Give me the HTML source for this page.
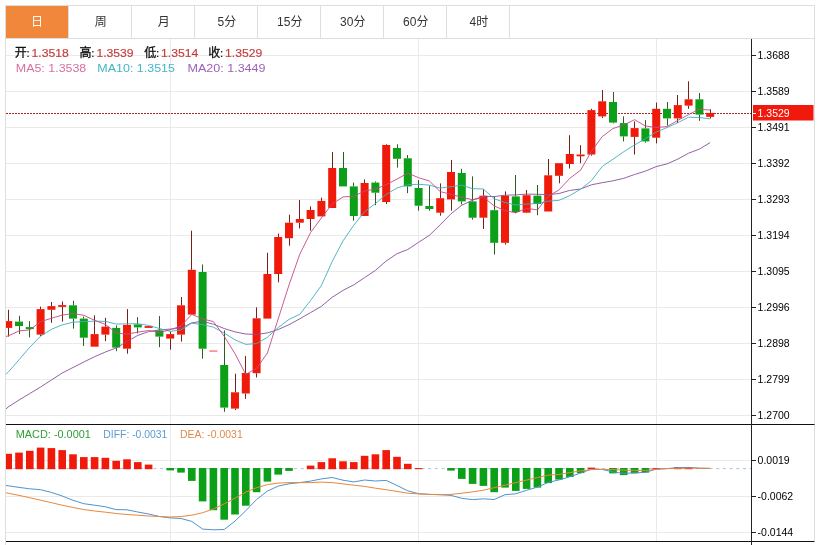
<!DOCTYPE html><html><head><meta charset="utf-8"><title>K线图</title><style>
html,body{margin:0;padding:0;background:#fff}svg{display:block}
text{font-family:"Liberation Sans","Noto Sans CJK SC",sans-serif}
.ax{font-size:10.5px;fill:#000}.tab{font-size:12px;fill:#333;text-anchor:middle}.inf{font-size:11.5px}.cj{font-size:12px}.mc{font-size:11px}
</style></head><body>
<svg width="822" height="545" viewBox="0 0 822 545">
<rect width="822" height="545" fill="#fff"/>
<path d="M5.5 5.5H814.5V541M5.5 5.5V545M5.5 38.5H814.5" fill="none" stroke="#dedede" stroke-width="1"/>
<rect x="6" y="6" width="62" height="32" fill="#f0873b"/>
<text class="tab" x="37.1" y="25.6" style="fill:#fff">日</text>
<path d="M68.5 5.5V38.5" stroke="#dedede" stroke-width="1"/>
<text class="tab" x="100.8" y="25.6" style="fill:#333">周</text>
<path d="M131.5 5.5V38.5" stroke="#dedede" stroke-width="1"/>
<text class="tab" x="163.8" y="25.6" style="fill:#333">月</text>
<path d="M194.5 5.5V38.5" stroke="#dedede" stroke-width="1"/>
<text class="tab" x="226.8" y="25.6" style="fill:#333">5分</text>
<path d="M257.5 5.5V38.5" stroke="#dedede" stroke-width="1"/>
<text class="tab" x="289.8" y="25.6" style="fill:#333">15分</text>
<path d="M320.5 5.5V38.5" stroke="#dedede" stroke-width="1"/>
<text class="tab" x="352.8" y="25.6" style="fill:#333">30分</text>
<path d="M383.5 5.5V38.5" stroke="#dedede" stroke-width="1"/>
<text class="tab" x="415.8" y="25.6" style="fill:#333">60分</text>
<path d="M446.5 5.5V38.5" stroke="#dedede" stroke-width="1"/>
<text class="tab" x="478.8" y="25.6" style="fill:#333">4时</text>
<path d="M509.5 5.5V38.5" stroke="#dedede" stroke-width="1"/>
<path d="M6 55.5H751" stroke="#eaeaea" stroke-width="1"/>
<path d="M6 91.5H751" stroke="#eaeaea" stroke-width="1"/>
<path d="M6 127.5H751" stroke="#eaeaea" stroke-width="1"/>
<path d="M6 163.5H751" stroke="#eaeaea" stroke-width="1"/>
<path d="M6 199.5H751" stroke="#eaeaea" stroke-width="1"/>
<path d="M6 235.5H751" stroke="#eaeaea" stroke-width="1"/>
<path d="M6 271.5H751" stroke="#eaeaea" stroke-width="1"/>
<path d="M6 307.5H751" stroke="#eaeaea" stroke-width="1"/>
<path d="M6 343.5H751" stroke="#eaeaea" stroke-width="1"/>
<path d="M6 379.5H751" stroke="#eaeaea" stroke-width="1"/>
<path d="M6 415.5H751" stroke="#eaeaea" stroke-width="1"/>
<path d="M6 460.5H751" stroke="#eaeaea" stroke-width="1"/>
<path d="M6 496.5H751" stroke="#eaeaea" stroke-width="1"/>
<path d="M6 532.5H751" stroke="#eaeaea" stroke-width="1"/>
<path d="M170.5 39V541" stroke="#eaeaea" stroke-width="1"/>
<path d="M418.5 39V541" stroke="#eaeaea" stroke-width="1"/>
<path d="M656.5 39V541" stroke="#eaeaea" stroke-width="1"/>
<text class="inf cj" x="14.7" y="56.6" fill="#111" stroke="#111" stroke-width="0.3">开</text>
<text class="inf" x="26.4" y="56.6" fill="#111" stroke="#111" stroke-width="0.2">:</text>
<text class="inf" x="31.5" y="56.6" textLength="37.2" lengthAdjust="spacingAndGlyphs" fill="#c43c3a" stroke="#c43c3a" stroke-width="0.15">1.3518</text>
<text class="inf cj" x="79.6" y="56.6" fill="#111" stroke="#111" stroke-width="0.3">高</text>
<text class="inf" x="91.3" y="56.6" fill="#111" stroke="#111" stroke-width="0.2">:</text>
<text class="inf" x="96.39999999999999" y="56.6" textLength="37.2" lengthAdjust="spacingAndGlyphs" fill="#c43c3a" stroke="#c43c3a" stroke-width="0.15">1.3539</text>
<text class="inf cj" x="144.2" y="56.6" fill="#111" stroke="#111" stroke-width="0.3">低</text>
<text class="inf" x="155.89999999999998" y="56.6" fill="#111" stroke="#111" stroke-width="0.2">:</text>
<text class="inf" x="161.0" y="56.6" textLength="37.2" lengthAdjust="spacingAndGlyphs" fill="#c43c3a" stroke="#c43c3a" stroke-width="0.15">1.3514</text>
<text class="inf cj" x="208.3" y="56.6" fill="#111" stroke="#111" stroke-width="0.3">收</text>
<text class="inf" x="220.0" y="56.6" fill="#111" stroke="#111" stroke-width="0.2">:</text>
<text class="inf" x="225.10000000000002" y="56.6" textLength="37.2" lengthAdjust="spacingAndGlyphs" fill="#c43c3a" stroke="#c43c3a" stroke-width="0.15">1.3529</text>
<text class="inf" x="15.8" y="72" textLength="70.5" lengthAdjust="spacingAndGlyphs" fill="#d8709f">MA5: 1.3538</text>
<text class="inf" x="97.3" y="72" textLength="77.7" lengthAdjust="spacingAndGlyphs" fill="#45b6c6">MA10: 1.3515</text>
<text class="inf" x="187.5" y="72" textLength="78" lengthAdjust="spacingAndGlyphs" fill="#9c60ba">MA20: 1.3449</text>
<defs><clipPath id="cp"><rect x="6" y="39" width="745" height="385"/></clipPath><clipPath id="cm"><rect x="6" y="425" width="745" height="116"/></clipPath></defs>
<path d="M6 113.5H751" stroke="#a82a2a" stroke-width="1" stroke-dasharray="2 1"/>
<g clip-path="url(#cp)" fill="none" stroke-width="1" stroke-linejoin="round">
<path d="M8.5 309.8V321.1" stroke="#7a2018"/>
<path d="M8.5 327.9V336.6" stroke="#7a2018"/>
<rect x="4.2" y="321.1" width="8" height="6.8" fill="#f01a0a"/>
<path d="M19.5 315.8V321.6" stroke="#2c5e24"/>
<path d="M19.5 326.1V334.1" stroke="#2c5e24"/>
<rect x="15.0" y="321.6" width="8" height="4.5" fill="#0ba017"/>
<path d="M29.5 321.1V327.1" stroke="#2c5e24"/>
<path d="M29.5 329.1V337.4" stroke="#2c5e24"/>
<rect x="25.8" y="327.1" width="8" height="2.0" fill="#0ba017"/>
<path d="M40.5 306.6V309.1" stroke="#7a2018"/>
<path d="M40.5 334.6V336.1" stroke="#7a2018"/>
<rect x="36.6" y="309.1" width="8" height="25.5" fill="#f01a0a"/>
<path d="M51.5 302.0V306.1" stroke="#7a2018"/>
<path d="M51.5 309.8V322.8" stroke="#7a2018"/>
<rect x="47.4" y="306.1" width="8" height="3.7" fill="#f01a0a"/>
<path d="M62.5 301.5V305.1" stroke="#7a2018"/>
<path d="M62.5 306.6V321.6" stroke="#7a2018"/>
<rect x="58.2" y="305.1" width="8" height="1.8" fill="#f01a0a"/>
<path d="M73.5 300.8V305.3" stroke="#2c5e24"/>
<path d="M73.5 318.6V328.6" stroke="#2c5e24"/>
<rect x="69.0" y="305.3" width="8" height="13.3" fill="#0ba017"/>
<path d="M83.5 316.6V318.6" stroke="#2c5e24"/>
<path d="M83.5 337.7V345.9" stroke="#2c5e24"/>
<rect x="79.8" y="318.6" width="8" height="19.1" fill="#0ba017"/>
<path d="M94.5 315.3V334.1" stroke="#7a2018"/>
<rect x="90.6" y="334.1" width="8" height="12.6" fill="#f01a0a"/>
<path d="M105.5 317.8V326.6" stroke="#7a2018"/>
<path d="M105.5 334.6V341.1" stroke="#7a2018"/>
<rect x="101.4" y="326.6" width="8" height="8.0" fill="#f01a0a"/>
<path d="M116.5 325.4V327.9" stroke="#2c5e24"/>
<path d="M116.5 347.6V351.2" stroke="#2c5e24"/>
<rect x="112.2" y="327.9" width="8" height="19.7" fill="#0ba017"/>
<path d="M127.5 309.1V324.9" stroke="#7a2018"/>
<path d="M127.5 348.7V353.7" stroke="#7a2018"/>
<rect x="123.0" y="324.9" width="8" height="23.8" fill="#f01a0a"/>
<path d="M137.5 317.1V324.4" stroke="#2c5e24"/>
<path d="M137.5 327.4V333.4" stroke="#2c5e24"/>
<rect x="133.8" y="324.4" width="8" height="3.0" fill="#0ba017"/>
<rect x="144.6" y="326.1" width="8" height="1.8" fill="#f01a0a"/>
<path d="M159.5 316.1V330.4" stroke="#2c5e24"/>
<path d="M159.5 336.6V347.2" stroke="#2c5e24"/>
<rect x="155.4" y="330.4" width="8" height="6.2" fill="#0ba017"/>
<path d="M170.5 331.6V334.1" stroke="#7a2018"/>
<path d="M170.5 338.6V349.7" stroke="#7a2018"/>
<rect x="166.2" y="334.1" width="8" height="4.5" fill="#f01a0a"/>
<path d="M181.5 297.0V305.3" stroke="#7a2018"/>
<path d="M181.5 334.6V341.6" stroke="#7a2018"/>
<rect x="177.0" y="305.3" width="8" height="29.3" fill="#f01a0a"/>
<path d="M191.5 230.7V269.8" stroke="#7a2018"/>
<rect x="187.8" y="269.8" width="8" height="44.8" fill="#f01a0a"/>
<path d="M202.5 264.5V272.0" stroke="#2c5e24"/>
<path d="M202.5 348.7V358.7" stroke="#2c5e24"/>
<rect x="198.6" y="272.0" width="8" height="76.7" fill="#0ba017"/>
<rect x="209.4" y="350.2" width="8" height="1.8" fill="#f01a0a" opacity=".45"/>
<path d="M224.5 330.4V365.0" stroke="#2c5e24"/>
<path d="M224.5 407.6V411.8" stroke="#2c5e24"/>
<rect x="220.2" y="365.0" width="8" height="42.6" fill="#0ba017"/>
<path d="M235.5 373.7V392.3" stroke="#7a2018"/>
<path d="M235.5 408.6V410.1" stroke="#7a2018"/>
<rect x="231.0" y="392.3" width="8" height="16.3" fill="#f01a0a"/>
<path d="M245.5 355.9V373.0" stroke="#7a2018"/>
<path d="M245.5 393.5V398.8" stroke="#7a2018"/>
<rect x="241.8" y="373.0" width="8" height="20.5" fill="#f01a0a"/>
<path d="M256.5 307.3V318.3" stroke="#7a2018"/>
<path d="M256.5 373.2V377.5" stroke="#7a2018"/>
<rect x="252.6" y="318.3" width="8" height="54.9" fill="#f01a0a"/>
<path d="M267.5 252.8V274.0" stroke="#7a2018"/>
<rect x="263.4" y="274.0" width="8" height="44.6" fill="#f01a0a"/>
<path d="M278.5 233.5V237.0" stroke="#7a2018"/>
<path d="M278.5 274.0V282.3" stroke="#7a2018"/>
<rect x="274.2" y="237.0" width="8" height="37.0" fill="#f01a0a"/>
<path d="M289.5 214.7V222.7" stroke="#7a2018"/>
<path d="M289.5 238.2V245.7" stroke="#7a2018"/>
<rect x="285.0" y="222.7" width="8" height="15.5" fill="#f01a0a"/>
<path d="M299.5 200.0V219.0" stroke="#7a2018"/>
<path d="M299.5 222.7V228.4" stroke="#7a2018"/>
<rect x="295.8" y="219.0" width="8" height="3.7" fill="#f01a0a"/>
<path d="M310.5 206.4V210.0" stroke="#7a2018"/>
<path d="M310.5 219.0V230.7" stroke="#7a2018"/>
<rect x="306.6" y="210.0" width="8" height="9.0" fill="#f01a0a"/>
<path d="M321.5 197.6V200.9" stroke="#7a2018"/>
<rect x="317.4" y="200.9" width="8" height="15.5" fill="#f01a0a"/>
<path d="M332.5 152.0V168.0" stroke="#7a2018"/>
<rect x="328.2" y="168.0" width="8" height="40.0" fill="#f01a0a"/>
<path d="M343.5 152.0V168.0" stroke="#2c5e24"/>
<rect x="339.0" y="168.0" width="8" height="18.4" fill="#0ba017"/>
<path d="M353.5 182.6V186.4" stroke="#2c5e24"/>
<path d="M353.5 216.0V220.7" stroke="#2c5e24"/>
<rect x="349.8" y="186.4" width="8" height="29.6" fill="#0ba017"/>
<path d="M364.5 179.4V183.0" stroke="#7a2018"/>
<rect x="360.6" y="183.0" width="8" height="33.0" fill="#f01a0a"/>
<path d="M375.5 181.4V182.6" stroke="#2c5e24"/>
<path d="M375.5 192.7V205.2" stroke="#2c5e24"/>
<rect x="371.4" y="182.6" width="8" height="10.1" fill="#0ba017"/>
<path d="M386.5 144.3V145.0" stroke="#7a2018"/>
<path d="M386.5 202.0V204.0" stroke="#7a2018"/>
<rect x="382.2" y="145.0" width="8" height="57.0" fill="#f01a0a"/>
<path d="M397.5 144.3V148.0" stroke="#2c5e24"/>
<path d="M397.5 158.8V167.6" stroke="#2c5e24"/>
<rect x="393.0" y="148.0" width="8" height="10.8" fill="#0ba017"/>
<path d="M407.5 155.0V158.3" stroke="#2c5e24"/>
<path d="M407.5 186.4V193.2" stroke="#2c5e24"/>
<rect x="403.8" y="158.3" width="8" height="28.1" fill="#0ba017"/>
<path d="M418.5 180.0V188.0" stroke="#2c5e24"/>
<path d="M418.5 205.7V210.7" stroke="#2c5e24"/>
<rect x="414.6" y="188.0" width="8" height="17.7" fill="#0ba017"/>
<path d="M429.5 185.6V206.0" stroke="#2c5e24"/>
<path d="M429.5 209.0V210.7" stroke="#2c5e24"/>
<rect x="425.4" y="206.0" width="8" height="3.0" fill="#0ba017"/>
<path d="M440.5 183.4V198.2" stroke="#7a2018"/>
<path d="M440.5 212.7V215.7" stroke="#7a2018"/>
<rect x="436.2" y="198.2" width="8" height="14.5" fill="#f01a0a"/>
<path d="M451.5 160.0V172.0" stroke="#7a2018"/>
<path d="M451.5 199.4V210.7" stroke="#7a2018"/>
<rect x="447.0" y="172.0" width="8" height="27.4" fill="#f01a0a"/>
<path d="M461.5 168.8V173.0" stroke="#2c5e24"/>
<path d="M461.5 201.4V204.4" stroke="#2c5e24"/>
<rect x="457.8" y="173.0" width="8" height="28.4" fill="#0ba017"/>
<path d="M472.5 176.4V201.4" stroke="#2c5e24"/>
<path d="M472.5 217.7V219.7" stroke="#2c5e24"/>
<rect x="468.6" y="201.4" width="8" height="16.3" fill="#0ba017"/>
<path d="M483.5 189.4V195.7" stroke="#7a2018"/>
<path d="M483.5 217.7V229.0" stroke="#7a2018"/>
<rect x="479.4" y="195.7" width="8" height="22.0" fill="#f01a0a"/>
<path d="M494.5 196.4V210.2" stroke="#2c5e24"/>
<path d="M494.5 242.8V254.6" stroke="#2c5e24"/>
<rect x="490.2" y="210.2" width="8" height="32.6" fill="#0ba017"/>
<path d="M505.5 191.4V195.7" stroke="#7a2018"/>
<path d="M505.5 242.8V244.5" stroke="#7a2018"/>
<rect x="501.0" y="195.7" width="8" height="47.1" fill="#f01a0a"/>
<path d="M515.5 175.0V196.4" stroke="#2c5e24"/>
<path d="M515.5 212.0V213.2" stroke="#2c5e24"/>
<rect x="511.8" y="196.4" width="8" height="15.6" fill="#0ba017"/>
<path d="M526.5 190.0V195.2" stroke="#7a2018"/>
<path d="M526.5 212.7V213.2" stroke="#7a2018"/>
<rect x="522.6" y="195.2" width="8" height="17.5" fill="#f01a0a"/>
<path d="M537.5 185.0V195.7" stroke="#2c5e24"/>
<path d="M537.5 204.0V215.2" stroke="#2c5e24"/>
<rect x="533.4" y="195.7" width="8" height="8.3" fill="#0ba017"/>
<path d="M548.5 159.0V175.3" stroke="#7a2018"/>
<rect x="544.2" y="175.3" width="8" height="36.2" fill="#f01a0a"/>
<path d="M559.5 175.8V183.3" stroke="#7a2018"/>
<rect x="555.0" y="163.2" width="8" height="12.6" fill="#f01a0a"/>
<path d="M569.5 135.2V154.0" stroke="#7a2018"/>
<path d="M569.5 164.0V168.5" stroke="#7a2018"/>
<rect x="565.8" y="154.0" width="8" height="10.0" fill="#f01a0a"/>
<path d="M580.5 145.2V154.5" stroke="#7a2018"/>
<path d="M580.5 155.7V163.2" stroke="#7a2018"/>
<rect x="576.6" y="154.5" width="8" height="1.8" fill="#f01a0a"/>
<path d="M591.5 108.8V110.1" stroke="#7a2018"/>
<path d="M591.5 154.5V155.7" stroke="#7a2018"/>
<rect x="587.4" y="110.1" width="8" height="44.4" fill="#f01a0a"/>
<path d="M602.5 90.0V101.3" stroke="#7a2018"/>
<path d="M602.5 116.4V118.1" stroke="#7a2018"/>
<rect x="598.2" y="101.3" width="8" height="15.1" fill="#f01a0a"/>
<path d="M613.5 92.0V102.0" stroke="#2c5e24"/>
<path d="M613.5 122.6V123.4" stroke="#2c5e24"/>
<rect x="609.0" y="102.0" width="8" height="20.6" fill="#0ba017"/>
<path d="M623.5 116.4V123.1" stroke="#2c5e24"/>
<path d="M623.5 136.4V141.4" stroke="#2c5e24"/>
<rect x="619.8" y="123.1" width="8" height="13.3" fill="#0ba017"/>
<path d="M634.5 121.4V128.1" stroke="#7a2018"/>
<path d="M634.5 136.9V154.5" stroke="#7a2018"/>
<rect x="630.6" y="128.1" width="8" height="8.8" fill="#f01a0a"/>
<path d="M645.5 120.1V128.4" stroke="#2c5e24"/>
<path d="M645.5 141.4V142.7" stroke="#2c5e24"/>
<rect x="641.4" y="128.4" width="8" height="13.0" fill="#0ba017"/>
<path d="M656.5 102.6V108.8" stroke="#7a2018"/>
<path d="M656.5 137.7V143.4" stroke="#7a2018"/>
<rect x="652.2" y="108.8" width="8" height="28.9" fill="#f01a0a"/>
<path d="M667.5 102.0V108.8" stroke="#2c5e24"/>
<path d="M667.5 118.4V125.6" stroke="#2c5e24"/>
<rect x="663.0" y="108.8" width="8" height="9.6" fill="#0ba017"/>
<path d="M677.5 95.0V105.1" stroke="#7a2018"/>
<path d="M677.5 118.4V123.1" stroke="#7a2018"/>
<rect x="673.8" y="105.1" width="8" height="13.3" fill="#f01a0a"/>
<path d="M688.5 81.3V99.3" stroke="#7a2018"/>
<path d="M688.5 105.6V108.8" stroke="#7a2018"/>
<rect x="684.6" y="99.3" width="8" height="6.3" fill="#f01a0a"/>
<path d="M699.5 93.0V99.3" stroke="#2c5e24"/>
<path d="M699.5 114.6V120.9" stroke="#2c5e24"/>
<rect x="695.4" y="99.3" width="8" height="15.3" fill="#0ba017"/>
<path d="M710.5 109.3V112.9" stroke="#7a2018"/>
<path d="M710.5 116.9V118.4" stroke="#7a2018"/>
<rect x="706.2" y="112.9" width="8" height="4.0" fill="#f01a0a"/>
<polyline points="5.5,409.3 8.2,407.0 19.0,400.0 29.8,393.5 40.6,387.0 51.4,380.0 62.2,373.0 73.0,367.5 83.8,362.0 94.6,356.7 105.4,352.0 116.2,347.9 127.0,341.5 137.8,335.4 148.6,331.6 159.4,329.9 170.2,329.1 181.0,328.2 191.8,322.8 202.6,321.3 213.4,324.2 224.2,328.5 235.0,331.9 245.8,334.0 256.6,334.5 267.4,332.9 278.2,329.5 289.0,324.7 299.8,318.8 310.6,312.6 321.4,306.3 332.2,297.3 343.0,290.4 353.8,284.8 364.6,277.6 375.4,270.4 386.2,261.0 397.0,253.7 407.8,249.5 418.6,242.3 429.4,235.3 440.2,224.8 451.0,213.8 461.8,205.2 472.6,200.2 483.4,196.3 494.2,196.6 505.0,195.2 515.8,194.9 526.6,194.1 537.4,194.3 548.2,194.7 559.0,193.5 569.8,190.4 580.6,189.0 591.4,184.8 602.2,182.7 613.0,180.8 623.8,178.3 634.6,174.5 645.4,171.1 656.2,166.6 667.0,163.9 677.8,159.1 688.6,153.2 699.4,149.1 710.2,142.6" stroke="#87509a" stroke-width=".9"/>
<polyline points="5.5,374.7 8.2,372.2 19.0,359.8 29.8,347.2 40.6,336.1 51.4,329.3 62.2,324.9 73.0,322.2 83.8,321.6 94.6,321.2 105.4,321.4 116.2,324.0 127.0,323.9 137.8,323.7 148.6,325.4 159.4,328.5 170.2,331.4 181.0,330.0 191.8,323.2 202.6,324.7 213.4,327.1 224.2,333.1 235.0,339.8 245.8,344.4 256.6,343.6 267.4,337.3 278.2,327.6 289.0,319.4 299.8,314.3 310.6,300.4 321.4,285.5 332.2,261.5 343.0,240.9 353.8,225.2 364.6,211.7 375.4,203.6 386.2,194.4 397.0,188.0 407.8,184.7 418.6,184.3 429.4,185.1 440.2,188.1 451.0,186.7 461.8,185.2 472.6,188.7 483.4,189.0 494.2,198.8 505.0,202.5 515.8,205.0 526.6,204.0 537.4,203.5 548.2,201.2 559.0,200.3 569.8,195.6 580.6,189.2 591.4,180.7 602.2,166.5 613.0,159.2 623.8,151.7 634.6,144.9 645.4,138.7 656.2,132.0 667.0,127.6 677.8,122.7 688.6,117.2 699.4,117.6 710.2,118.8" stroke="#42aebc" stroke-width=".9"/>
<polyline points="5.5,336.6 8.2,335.9 19.0,330.9 29.8,329.9 40.6,321.6 51.4,318.3 62.2,315.1 73.0,313.6 83.8,315.3 94.6,320.3 105.4,324.4 116.2,332.9 127.0,334.2 137.8,332.1 148.6,330.5 159.4,332.5 170.2,329.8 181.0,325.9 191.8,314.4 202.6,318.9 213.4,321.6 224.2,336.3 235.0,353.7 245.8,374.4 256.6,368.3 267.4,353.0 278.2,318.9 289.0,285.0 299.8,254.2 310.6,232.5 321.4,217.9 332.2,204.1 343.0,196.9 353.8,196.3 364.6,190.9 375.4,189.2 386.2,184.6 397.0,179.1 407.8,173.2 418.6,177.7 429.4,181.0 440.2,191.6 451.0,194.3 461.8,197.3 472.6,199.7 483.4,197.0 494.2,205.9 505.0,210.7 515.8,212.8 526.6,208.3 537.4,209.9 548.2,196.4 559.0,189.9 569.8,178.3 580.6,170.2 591.4,151.4 602.2,136.6 613.0,128.5 623.8,125.0 634.6,119.7 645.4,126.0 656.2,127.5 667.0,126.6 677.8,120.4 688.6,114.6 699.4,109.2 710.2,110.1" stroke="#c44a84" stroke-width=".9"/>
</g>
<g clip-path="url(#cm)" fill="none" stroke-width="1" stroke-linejoin="round">
<path d="M6 468.6H751" stroke="#a9c3df" stroke-width="1" stroke-dasharray="3 3.7"/>
<rect x="4.4" y="453.8" width="7.6" height="15.4" fill="#f01a0a"/>
<rect x="15.2" y="452.6" width="7.6" height="16.6" fill="#f01a0a"/>
<rect x="26.0" y="450.8" width="7.6" height="18.4" fill="#f01a0a"/>
<rect x="36.8" y="447.6" width="7.6" height="21.6" fill="#f01a0a"/>
<rect x="47.6" y="448.1" width="7.6" height="21.1" fill="#f01a0a"/>
<rect x="58.4" y="450.1" width="7.6" height="19.1" fill="#f01a0a"/>
<rect x="69.2" y="454.3" width="7.6" height="14.9" fill="#f01a0a"/>
<rect x="80.0" y="457.1" width="7.6" height="12.1" fill="#f01a0a"/>
<rect x="90.8" y="457.1" width="7.6" height="12.1" fill="#f01a0a"/>
<rect x="101.6" y="457.8" width="7.6" height="11.4" fill="#f01a0a"/>
<rect x="112.4" y="460.8" width="7.6" height="8.4" fill="#f01a0a"/>
<rect x="123.2" y="459.3" width="7.6" height="9.9" fill="#f01a0a"/>
<rect x="134.0" y="462.1" width="7.6" height="7.1" fill="#f01a0a"/>
<rect x="144.8" y="464.6" width="7.6" height="4.6" fill="#f01a0a"/>
<rect x="166.4" y="468.0" width="7.6" height="2.4" fill="#0ba017"/>
<rect x="177.2" y="468.0" width="7.6" height="4.6" fill="#0ba017"/>
<rect x="188.0" y="468.0" width="7.6" height="12.9" fill="#0ba017"/>
<rect x="198.8" y="468.0" width="7.6" height="33.4" fill="#0ba017"/>
<rect x="209.6" y="468.0" width="7.6" height="42.2" fill="#0ba017"/>
<rect x="220.4" y="468.0" width="7.6" height="51.7" fill="#0ba017"/>
<rect x="231.2" y="468.0" width="7.6" height="46.5" fill="#0ba017"/>
<rect x="242.0" y="468.0" width="7.6" height="37.7" fill="#0ba017"/>
<rect x="252.8" y="468.0" width="7.6" height="24.2" fill="#0ba017"/>
<rect x="263.6" y="468.0" width="7.6" height="13.6" fill="#0ba017"/>
<rect x="274.4" y="468.0" width="7.6" height="6.6" fill="#0ba017"/>
<rect x="285.2" y="468.0" width="7.6" height="2.9" fill="#0ba017"/>
<rect x="306.8" y="465.6" width="7.6" height="3.6" fill="#f01a0a"/>
<rect x="317.6" y="462.1" width="7.6" height="7.1" fill="#f01a0a"/>
<rect x="328.4" y="458.3" width="7.6" height="10.9" fill="#f01a0a"/>
<rect x="339.2" y="461.3" width="7.6" height="7.9" fill="#f01a0a"/>
<rect x="350.0" y="462.1" width="7.6" height="7.1" fill="#f01a0a"/>
<rect x="360.8" y="455.8" width="7.6" height="13.4" fill="#f01a0a"/>
<rect x="371.6" y="454.3" width="7.6" height="14.9" fill="#f01a0a"/>
<rect x="382.4" y="450.1" width="7.6" height="19.1" fill="#f01a0a"/>
<rect x="393.2" y="456.8" width="7.6" height="12.4" fill="#f01a0a"/>
<rect x="404.0" y="463.8" width="7.6" height="5.4" fill="#f01a0a"/>
<rect x="414.8" y="468.1" width="7.6" height="1.1" fill="#f01a0a"/>
<rect x="447.2" y="468.0" width="7.6" height="2.6" fill="#0ba017"/>
<rect x="458.0" y="468.0" width="7.6" height="10.9" fill="#0ba017"/>
<rect x="468.8" y="468.0" width="7.6" height="15.9" fill="#0ba017"/>
<rect x="479.6" y="468.0" width="7.6" height="17.9" fill="#0ba017"/>
<rect x="490.4" y="468.0" width="7.6" height="24.2" fill="#0ba017"/>
<rect x="501.2" y="468.0" width="7.6" height="19.6" fill="#0ba017"/>
<rect x="512.0" y="468.0" width="7.6" height="22.9" fill="#0ba017"/>
<rect x="522.8" y="468.0" width="7.6" height="20.9" fill="#0ba017"/>
<rect x="533.6" y="468.0" width="7.6" height="19.6" fill="#0ba017"/>
<rect x="544.4" y="468.0" width="7.6" height="15.1" fill="#0ba017"/>
<rect x="555.2" y="468.0" width="7.6" height="11.6" fill="#0ba017"/>
<rect x="566.0" y="468.0" width="7.6" height="8.9" fill="#0ba017"/>
<rect x="576.8" y="468.0" width="7.6" height="5.1" fill="#0ba017"/>
<rect x="587.6" y="467.6" width="7.6" height="1.6" fill="#f01a0a"/>
<rect x="609.2" y="468.0" width="7.6" height="5.4" fill="#0ba017"/>
<rect x="620.0" y="468.0" width="7.6" height="7.1" fill="#0ba017"/>
<rect x="630.8" y="468.0" width="7.6" height="5.4" fill="#0ba017"/>
<rect x="641.6" y="468.0" width="7.6" height="4.6" fill="#0ba017"/>
<rect x="652.4" y="468.1" width="7.6" height="1.1" fill="#f01a0a"/>
<rect x="674.0" y="467.1" width="7.6" height="2.1" fill="#f01a0a"/>
<rect x="684.8" y="467.1" width="7.6" height="2.1" fill="#f01a0a"/>
<polyline points="5.5,485.3 8.2,485.8 19.0,487.4 29.8,488.8 40.6,489.7 51.4,492.4 62.2,496.0 73.0,500.3 83.8,503.7 94.6,505.2 105.4,506.8 116.2,509.6 127.0,509.8 137.8,512.0 148.6,514.0 159.4,516.5 170.2,517.9 181.0,518.5 191.8,521.4 202.6,529.1 213.4,529.8 224.2,529.5 235.0,521.1 245.8,510.7 256.6,499.5 267.4,491.1 278.2,486.1 289.0,483.8 299.8,482.6 310.6,481.1 321.4,478.9 332.2,477.5 343.0,480.2 353.8,481.9 364.6,480.0 375.4,481.0 386.2,480.4 397.0,485.5 407.8,490.8 418.6,493.7 429.4,494.4 440.2,494.7 451.0,495.4 461.8,498.3 472.6,499.6 483.4,498.8 494.2,499.5 505.0,494.7 515.8,493.8 526.6,490.3 537.4,487.1 548.2,482.4 559.0,479.9 569.8,476.8 580.6,473.1 591.4,469.1 602.2,469.4 613.0,472.0 623.8,473.4 634.6,472.8 645.4,472.4 656.2,469.1 667.0,468.6 677.8,467.6 688.6,467.4 699.4,468.2 710.2,468.4" stroke="#4d94d0"/>
<polyline points="5.5,492.7 8.2,493.2 19.0,495.4 29.8,497.7 40.6,500.2 51.4,502.7 62.2,505.2 73.0,507.5 83.8,509.5 94.6,511.0 105.4,512.2 116.2,513.5 127.0,514.5 137.8,515.2 148.6,516.0 159.4,516.5 170.2,517.0 181.0,516.5 191.8,515.2 202.6,512.7 213.4,509.0 224.2,503.9 235.0,498.2 245.8,492.2 256.6,487.7 267.4,484.6 278.2,483.1 289.0,482.6 299.8,482.6 310.6,482.6 321.4,482.1 332.2,482.6 343.0,483.9 353.8,485.2 364.6,486.4 375.4,488.2 386.2,489.7 397.0,491.4 407.8,493.2 418.6,493.9 429.4,494.4 440.2,494.7 451.0,494.4 461.8,493.2 472.6,491.9 483.4,490.2 494.2,487.7 505.0,485.2 515.8,482.6 526.6,480.1 537.4,477.6 548.2,475.1 559.0,474.4 569.8,472.6 580.6,470.9 591.4,469.6 602.2,469.4 613.0,469.6 623.8,470.1 634.6,470.4 645.4,470.4 656.2,469.4 667.0,468.6 677.8,468.4 688.6,468.1 699.4,468.2 710.2,468.4" stroke="#e8883c"/>
</g>
<text class="inf mc" x="15.8" y="438" textLength="75" lengthAdjust="spacingAndGlyphs" fill="#2f9e36">MACD: -0.0001</text>
<text class="inf mc" x="103.3" y="438" textLength="64.1" lengthAdjust="spacingAndGlyphs" fill="#5a9bd4">DIFF: -0.0031</text>
<text class="inf mc" x="180" y="438" textLength="62.7" lengthAdjust="spacingAndGlyphs" fill="#e08a4a">DEA: -0.0031</text>
<path d="M6 424.5H814.5M6 541.5H814.5" stroke="#111" stroke-width="1" fill="none"/>
<path d="M751.5 39V545" stroke="#222" stroke-width="1" fill="none"/>
<path d="M752 55.5H756" stroke="#222" stroke-width="1"/>
<text class="ax" x="757.6" y="59.3">1.3688</text>
<path d="M752 91.5H756" stroke="#222" stroke-width="1"/>
<text class="ax" x="757.6" y="95.3">1.3589</text>
<path d="M752 127.5H756" stroke="#222" stroke-width="1"/>
<text class="ax" x="757.6" y="131.3">1.3491</text>
<path d="M752 163.5H756" stroke="#222" stroke-width="1"/>
<text class="ax" x="757.6" y="167.3">1.3392</text>
<path d="M752 199.5H756" stroke="#222" stroke-width="1"/>
<text class="ax" x="757.6" y="203.3">1.3293</text>
<path d="M752 235.5H756" stroke="#222" stroke-width="1"/>
<text class="ax" x="757.6" y="239.3">1.3194</text>
<path d="M752 271.5H756" stroke="#222" stroke-width="1"/>
<text class="ax" x="757.6" y="275.3">1.3095</text>
<path d="M752 307.5H756" stroke="#222" stroke-width="1"/>
<text class="ax" x="757.6" y="311.3">1.2996</text>
<path d="M752 343.5H756" stroke="#222" stroke-width="1"/>
<text class="ax" x="757.6" y="347.3">1.2898</text>
<path d="M752 379.5H756" stroke="#222" stroke-width="1"/>
<text class="ax" x="757.6" y="383.3">1.2799</text>
<path d="M752 415.5H756" stroke="#222" stroke-width="1"/>
<text class="ax" x="757.6" y="419.3">1.2700</text>
<path d="M752 460.5H756" stroke="#222" stroke-width="1"/>
<text class="ax" x="757.6" y="464.3">0.0019</text>
<path d="M752 496.5H756" stroke="#222" stroke-width="1"/>
<text class="ax" x="757.6" y="500.3">-0.0062</text>
<path d="M752 532.5H756" stroke="#222" stroke-width="1"/>
<text class="ax" x="757.6" y="536.3">-0.0144</text>
<rect x="753" y="105" width="60.5" height="15.5" fill="#f0190c"/>
<path d="M752 113.5H756" stroke="#fff" stroke-width="1"/>
<text class="ax" x="757.6" y="117.3" style="fill:#fff">1.3529</text>
</svg></body></html>
